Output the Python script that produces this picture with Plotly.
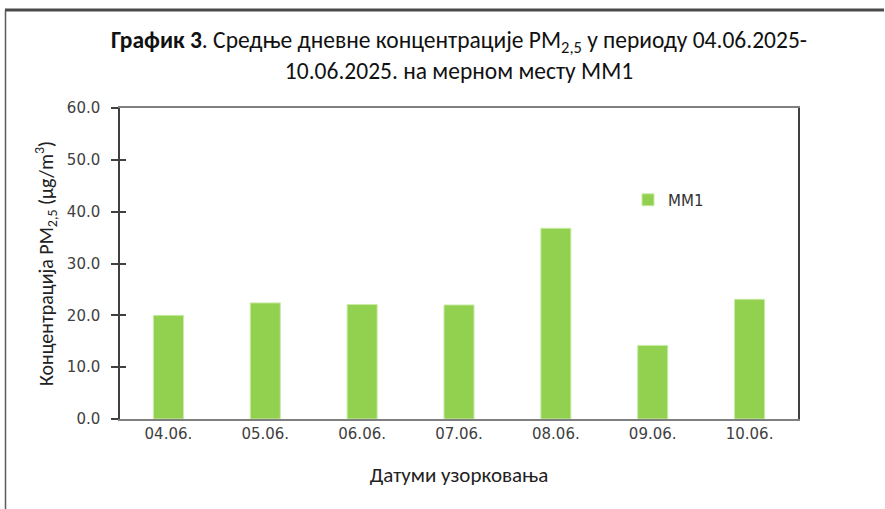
import plotly.graph_objects as go

# Daily mean PM2.5 concentrations at measuring point MM1
dates = ["04.06.", "05.06.", "06.06.", "07.06.", "08.06.", "09.06.", "10.06."]
pm25 = [20.0, 22.4, 22.1, 22.0, 36.8, 14.2, 23.1]
series_name = "MM1"
y_ticks = [0, 10, 20, 30, 40, 50, 60]

W, H = 885, 509
L, R, T, B = 120, 87, 108, 90
pw, ph = W - L - R, H - T - B

def px_x(x):
    return (x - L) / pw

def px_y(y):
    return (H - B - y) / ph

title_font = "Liberation Sans Narrow, Carlito, Lato, sans-serif"
tick_font = "DejaVu Sans, Verdana, sans-serif"

fig = go.Figure()
fig.add_trace(go.Bar(
    x=dates, y=pm25, name=series_name,
    marker=dict(color="#92D050", line=dict(color="#c9eba6", width=1)),
    width=0.31,
))
# invisible trace so the inner tick axis gets drawn
fig.add_trace(go.Scatter(x=dates, y=pm25, yaxis="y2", mode="markers",
                         marker=dict(opacity=0), showlegend=False, hoverinfo="skip"))

fig.update_layout(
    width=W, height=H,
    margin=dict(l=L, r=R, t=T, b=B),
    paper_bgcolor="white", plot_bgcolor="white",
    title=dict(
        text="<b>График 3</b>. Средње дневне концентрације PM<sub>2,5</sub> у периоду 04.06.2025-<br>10.06.2025. на мерном месту MM1",
        x=0.5, xanchor="center", xref="paper",
        y=1 - 48 / H, yanchor="top", yref="container",
        font=dict(family=title_font, size=23.5, color="#111111"),
    ),
    showlegend=True,
    legend=dict(x=px_x(628), y=px_y(200), xanchor="left", yanchor="middle",
                font=dict(family=tick_font, size=15, color="#333333"),
                bgcolor="rgba(0,0,0,0)", itemwidth=30),
    xaxis=dict(
        type="category",
        showline=True, linecolor="#7f7f7f", linewidth=1.5, mirror=True,
        ticks="", showgrid=False,
        tickfont=dict(family=tick_font, size=15, color="#404040"),
        title=dict(text="Датуми узорковања",
                   font=dict(family=title_font, size=21, color="#222222"), standoff=26),
    ),
    yaxis=dict(
        range=[0, 60], tickvals=y_ticks, tickformat=".1f",
        showline=True, linecolor="#404040", linewidth=1.5, mirror=True,
        ticks="outside", ticklen=7, tickcolor="#404040", tickwidth=1.5,
        ticklabelstandoff=8,
        showgrid=False, zeroline=False,
        tickfont=dict(family=tick_font, size=15, color="#404040"),
        title=dict(text="Концентрација PM<sub>2,5</sub> (µg/m<sup>3</sup>)",
                   font=dict(family=title_font, size=20, color="#222222"), standoff=8),
    ),
    yaxis2=dict(
        overlaying="y", side="left", range=[0, 60], tickvals=y_ticks,
        ticks="inside", ticklen=6, tickcolor="#404040", tickwidth=1.5,
        showticklabels=False, showgrid=False, zeroline=False, showline=False,
    ),
    shapes=[
        # page frame: top edge
        dict(type="line", xref="paper", yref="paper", layer="above",
             x0=px_x(5), x1=px_x(W - 1), y0=px_y(10), y1=px_y(10),
             line=dict(color="#4a4a4a", width=3)),
        # page frame: left edge
        dict(type="line", xref="paper", yref="paper", layer="above",
             x0=px_x(5.5), x1=px_x(5.5), y0=px_y(10), y1=px_y(H),
             line=dict(color="#5a5a5a", width=1.5)),
    ],
)

fig.write_html("out.html")
